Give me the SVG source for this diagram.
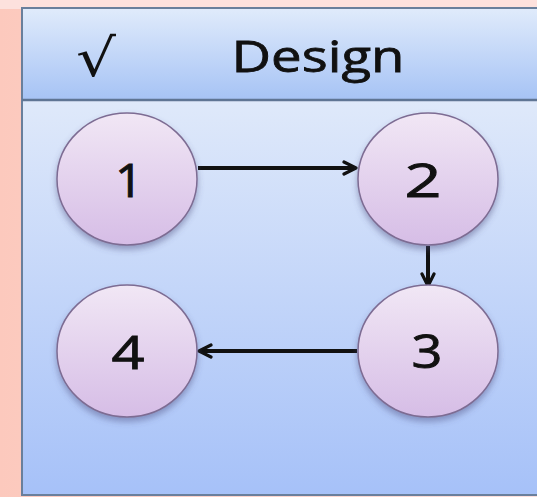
<svg xmlns="http://www.w3.org/2000/svg" width="537" height="497" viewBox="0 0 537 497">
<defs>
<linearGradient id="bg" x1="0" y1="0" x2="1" y2="0">
<stop offset="0" stop-color="#fcc9bd"/><stop offset="1" stop-color="#fde0dc"/>
</linearGradient>
<linearGradient id="hdr" x1="0" y1="0" x2="0" y2="1">
<stop offset="0" stop-color="#e0ebfb"/><stop offset="1" stop-color="#a6c3f5"/>
</linearGradient>
<linearGradient id="body" x1="0" y1="0" x2="0" y2="1">
<stop offset="0" stop-color="#dfe9fa"/><stop offset="1" stop-color="#a6c1f8"/>
</linearGradient>
<linearGradient id="node" x1="0" y1="0" x2="0" y2="1">
<stop offset="0" stop-color="#f1e7f5"/><stop offset="1" stop-color="#d6bde6"/>
</linearGradient>
<filter id="sh" x="-20%" y="-20%" width="140%" height="150%">
<feDropShadow dx="0" dy="4" stdDeviation="3" flood-color="#4a4a7a" flood-opacity="0.45"/>
</filter>
<marker id="ah" viewBox="0 0 16 16" refX="14" refY="8" markerWidth="16" markerHeight="16" markerUnits="userSpaceOnUse" orient="auto">
<path d="M2,2 L14,8 L2,14" fill="none" stroke="#111" stroke-width="3.2" stroke-linecap="round" stroke-linejoin="round"/>
</marker>
<style>
.node ellipse{fill:url(#node);stroke:#7d6c93;stroke-width:1.5;filter:url(#sh)}
.lbl{font-family:"Open Sans","DejaVu Sans",sans-serif;font-size:46px;fill:#111;stroke:#111;stroke-width:0.9;text-anchor:middle}
.conn line{stroke:#111;stroke-width:4;marker-end:url(#ah)}
</style>
</defs>
<rect x="0" y="0" width="537" height="497" fill="url(#bg)"/>
<rect x="0" y="0" width="537" height="9" fill="#fde1dd"/>
<g id="panel">
<rect x="22" y="100" width="530" height="395" fill="url(#body)"/>
<rect x="22" y="8" width="530" height="92" fill="url(#hdr)"/>
<rect x="22" y="8" width="530" height="487" fill="none" stroke="#697f9c" stroke-width="2"/>
<line x1="22" y1="100" x2="537" y2="100" stroke="#5f7594" stroke-width="2.5"/>
<text x="96" y="76" font-family="DejaVu Sans, sans-serif" font-size="52" fill="#111" text-anchor="middle" textLength="40" lengthAdjust="spacingAndGlyphs">√</text>
<text x="318" y="72" font-family="Open Sans, sans-serif" font-size="44" fill="#111" stroke="#111" stroke-width="0.8" text-anchor="middle" textLength="173" lengthAdjust="spacingAndGlyphs">Design</text>
</g>
<g id="connectors" class="conn">
<line x1="198" y1="168" x2="356" y2="168"/>
<line x1="428" y1="246" x2="428" y2="286"/>
<line x1="357" y1="351" x2="199" y2="351"/>
</g>
<g id="n1" class="node"><ellipse cx="127" cy="179" rx="70" ry="66"/><text class="lbl" x="129" y="197" textLength="28" lengthAdjust="spacingAndGlyphs">1</text></g>
<g id="n2" class="node"><ellipse cx="428" cy="179" rx="70" ry="66"/><text class="lbl" x="423" y="197" textLength="37" lengthAdjust="spacingAndGlyphs">2</text></g>
<g id="n3" class="node"><ellipse cx="428" cy="351" rx="70" ry="66"/><text class="lbl" x="427" y="368" textLength="31" lengthAdjust="spacingAndGlyphs">3</text></g>
<g id="n4" class="node"><ellipse cx="127" cy="351" rx="70" ry="66"/><text class="lbl" x="128" y="369" textLength="33" lengthAdjust="spacingAndGlyphs">4</text></g>
</svg>
